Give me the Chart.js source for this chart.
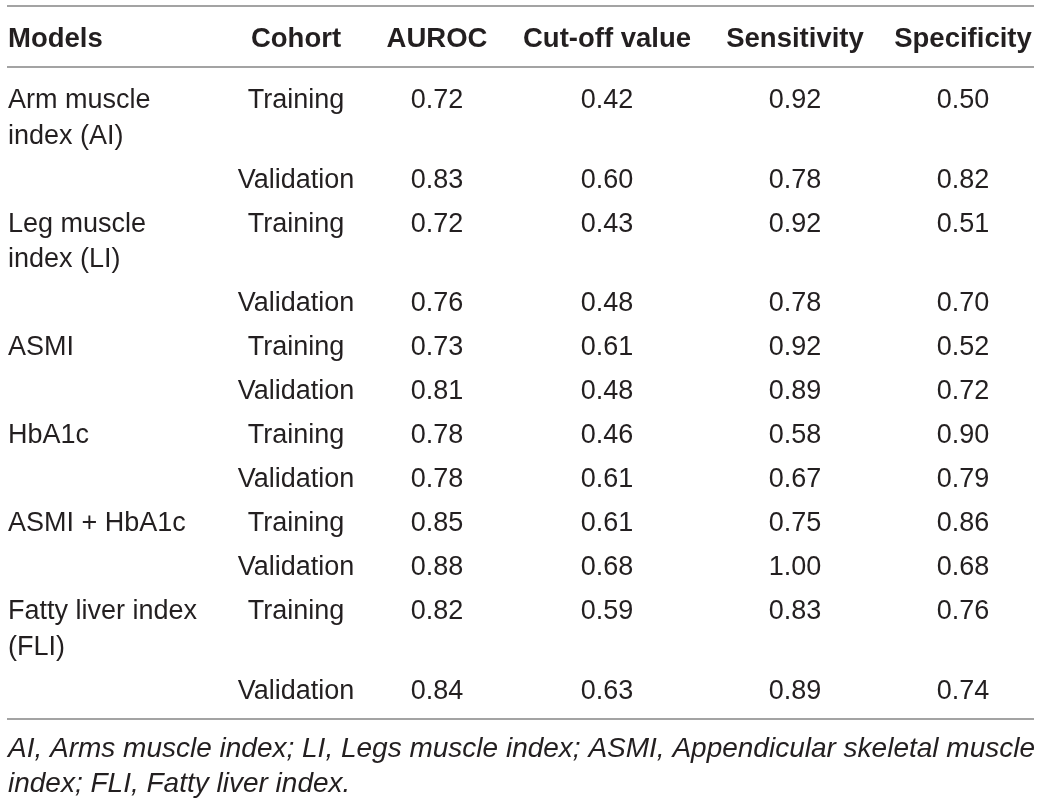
<!doctype html>
<html lang="en">
<head>
    <meta charset="UTF-8">
    <title>AUROC table</title>
    <style>
        html, body { margin: 0; padding: 0; background: #fff; }
        .tabela { width: 1042px; height: 802px; }
    </style>
</head>
<body>
    <div class="tabela">
        <canvas id="tabela1" width="1042" height="802"></canvas>
    </div>

    <script src="https://cdn.jsdelivr.net/npm/chart.js"></script>

    <script>
        // ---- data ----
        const columns = ['Models', 'Cohort', 'AUROC', 'Cut-off value', 'Sensitivity', 'Specificity'];
        const models = [
            ['Arm muscle', 'index (AI)'],
            ['Leg muscle', 'index (LI)'],
            ['ASMI'],
            ['HbA1c'],
            ['ASMI + HbA1c'],
            ['Fatty liver index', '(FLI)']
        ];
        const cohorts = ['Training', 'Validation'];
        const auroc       = [0.72, 0.83, 0.72, 0.76, 0.73, 0.81, 0.78, 0.78, 0.85, 0.88, 0.82, 0.84];
        const cutoff      = [0.42, 0.60, 0.43, 0.48, 0.61, 0.48, 0.46, 0.61, 0.61, 0.68, 0.59, 0.63];
        const sensitivity = [0.92, 0.78, 0.92, 0.78, 0.92, 0.89, 0.58, 0.67, 0.75, 1.00, 0.83, 0.89];
        const specificity = [0.50, 0.82, 0.51, 0.70, 0.52, 0.72, 0.90, 0.79, 0.86, 0.68, 0.76, 0.74];
        const footnote = [
            'AI, Arms muscle index; LI, Legs muscle index; ASMI, Appendicular skeletal muscle',
            'index; FLI, Fatty liver index.'
        ];

        // ---- layout ----
        const family = "'Liberation Sans', Arial, sans-serif";
        const bodyFont = '27px ' + family;
        const headFont = 'bold 27.5px ' + family;
        const noteFont = 'italic 28px ' + family;
        const ink = '#231f20';
        const ruleColor = '#a3a3a3';
        const colX = [8, 296, 437, 607, 795, 963];
        const colAlign = ['left', 'center', 'center', 'center', 'center', 'center'];
        const headBase = 47;
        const firstBase = 108;
        const rowStep = 44;
        const lineStep = 35.5;
        const rules = [6, 67, 719];
        const ruleLeft = 7, ruleRight = 1034;
        const noteBase = [757, 792];
        const noteLeft = 8, noteRight = 1035;

        // build one dataset per column, every cell a point with its text
        const datasets = columns.map((c, ci) => ({
            label: c,
            align: colAlign[ci],
            data: [{ x: colX[ci], y: headBase, text: c, font: headFont }],
            pointRadius: 0
        }));

        let yCur = firstBase;
        let r = 0;
        models.forEach(lines => {
            cohorts.forEach((coh, k) => {
                if (k === 0) {
                    lines.forEach((ln, li) => {
                        datasets[0].data.push({ x: colX[0], y: yCur + li * lineStep, text: ln, font: bodyFont });
                    });
                }
                const vals = [coh, auroc[r].toFixed(2), cutoff[r].toFixed(2), sensitivity[r].toFixed(2), specificity[r].toFixed(2)];
                vals.forEach((v, vi) => {
                    datasets[vi + 1].data.push({ x: colX[vi + 1], y: yCur, text: v, font: bodyFont });
                });
                const nLines = k === 0 ? lines.length : 1;
                yCur += rowStep + (nLines - 1) * lineStep;
                r++;
            });
        });

        const tablePlugin = {
            id: 'tableText',
            afterDatasetsDraw(chart) {
                const { ctx, scales: { x, y } } = chart;
                ctx.save();
                // rules
                ctx.strokeStyle = ruleColor;
                ctx.lineWidth = 2;
                rules.forEach(v => {
                    const py = Math.round(y.getPixelForValue(v));
                    ctx.beginPath();
                    ctx.moveTo(x.getPixelForValue(ruleLeft), py);
                    ctx.lineTo(x.getPixelForValue(ruleRight), py);
                    ctx.stroke();
                });
                // cells
                ctx.fillStyle = ink;
                ctx.textBaseline = 'alphabetic';
                chart.data.datasets.forEach((ds, di) => {
                    const meta = chart.getDatasetMeta(di);
                    ctx.textAlign = ds.align;
                    meta.data.forEach((pt, i) => {
                        const cell = ds.data[i];
                        ctx.font = cell.font;
                        ctx.fillText(cell.text, pt.x, pt.y);
                    });
                });
                // footnote, fitted to the table width
                ctx.font = noteFont;
                ctx.textAlign = 'left';
                const left = x.getPixelForValue(noteLeft);
                const target = x.getPixelForValue(noteRight) - left;
                const sx = target / ctx.measureText(footnote[0]).width;
                footnote.forEach((ln, i) => {
                    ctx.save();
                    ctx.translate(left, y.getPixelForValue(noteBase[i]));
                    ctx.scale(sx, 1);
                    ctx.fillText(ln, 0, 0);
                    ctx.restore();
                });
                ctx.restore();
            }
        };

        const ctx = document.getElementById('tabela1');
        const tabela = new Chart(ctx, {
            type: 'scatter',
            data: { datasets: datasets },
            options: {
                responsive: false,
                animation: false,
                devicePixelRatio: 1,
                layout: { padding: 0 },
                plugins: { legend: { display: false }, tooltip: { enabled: false } },
                events: [],
                scales: {
                    x: { type: 'linear', min: 0, max: 1042, display: false },
                    y: { type: 'linear', min: 0, max: 802, reverse: true, display: false }
                }
            },
            plugins: [tablePlugin]
        });
    </script>
</body>
</html>
